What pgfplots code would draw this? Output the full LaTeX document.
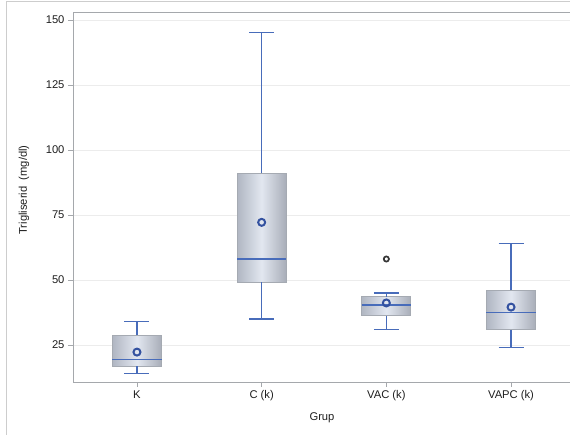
\documentclass[border=0pt]{standalone}
\usepackage{pgfplots}
\pgfplotsset{compat=1.18}
\usepackage{fontspec}
\setmainfont{Liberation Sans}
\definecolor{boxblue}{RGB}{72,108,186}
\definecolor{meanblue}{RGB}{52,82,160}
\definecolor{axgray}{RGB}{165,168,172}
\definecolor{gridgray}{RGB}{236,236,236}
\definecolor{boxedge}{RGB}{165,170,178}
\definecolor{shadeL}{RGB}{176,182,194}
\definecolor{shadeM}{RGB}{226,231,240}
\definecolor{shadeR}{RGB}{168,173,184}
\definecolor{txt}{RGB}{30,30,30}
\definecolor{outl}{RGB}{55,55,55}
\definecolor{frame}{RGB}{205,205,205}
\begin{document}
\begin{tikzpicture}
\useasboundingbox (-73pt,-53pt) rectangle (497pt,382pt);
\draw[frame, line width=0.8pt] (-67pt,-60pt) -- (-67pt,381pt) -- (510pt,381pt);
\begin{axis}[
  at={(0pt,0pt)}, anchor=south west,
  scale only axis, width=500pt, height=370pt,
  xmin=-0.513, xmax=3.497, ymin=10.8, ymax=153.1,
  xtick={0,1,2,3}, xticklabels={K, C (k), VAC (k), VAPC (k)},
  ytick={25,50,75,100,125,150},
  tick pos=left, tick align=outside, major tick length=5pt,
  tick style={axgray, line width=0.9pt},
  axis line style={axgray, line width=0.9pt},
  ymajorgrids, grid style={gridgray, line width=0.9pt},
  ticklabel style={font=\fontsize{11.2}{13}\selectfont, text=txt},
  /pgf/number format/assume math mode=true,
  xlabel={Grup}, ylabel={Trigliserid\ \ (mg/dl)},
  label style={font=\fontsize{11.2}{13}\selectfont, text=txt},
  xlabel style={at={(axis description cs:0.498,-0.097)}, anchor=center},
  ylabel style={at={(axis description cs:-0.098,0.519)}, anchor=center},
  boxstyle/.style={draw=boxedge, line width=1pt, left color=shadeL, right color=shadeR, middle color=shadeM},
  whisk/.style={draw=boxblue, line width=1.4pt, mark=none},
  med/.style={draw=boxblue, line width=1.6pt, mark=none},
]
% boxes (lower quartile to upper quartile)
\addplot[boxstyle] coordinates {(-0.1975,16.9) (0.1975,16.9) (0.1975,28.8) (-0.1975,28.8)} -- cycle;
\addplot[boxstyle] coordinates {(0.8025,49.2) (1.1975,49.2) (1.1975,91.0) (0.8025,91.0)} -- cycle;
\addplot[boxstyle] coordinates {(1.8025,36.3) (2.1975,36.3) (2.1975,43.5) (1.8025,43.5)} -- cycle;
\addplot[boxstyle] coordinates {(2.8025,30.8) (3.1975,30.8) (3.1975,46.0) (2.8025,46.0)} -- cycle;
% whiskers
\addplot[whisk] coordinates {(0,16.9) (0,14.1)};
\addplot[whisk] coordinates {(-0.1,14.1) (0.1,14.1)};
\addplot[whisk] coordinates {(0,28.8) (0,34.0)};
\addplot[whisk] coordinates {(-0.1,34.0) (0.1,34.0)};
\addplot[whisk] coordinates {(1,49.2) (1,35.0)};
\addplot[whisk] coordinates {(0.9,35.0) (1.1,35.0)};
\addplot[whisk] coordinates {(1,91.0) (1,145.1)};
\addplot[whisk] coordinates {(0.9,145.1) (1.1,145.1)};
\addplot[whisk] coordinates {(2,36.3) (2,31.0)};
\addplot[whisk] coordinates {(1.9,31.0) (2.1,31.0)};
\addplot[whisk] coordinates {(2,43.5) (2,45.0)};
\addplot[whisk] coordinates {(1.9,45.0) (2.1,45.0)};
\addplot[whisk] coordinates {(3,30.8) (3,24.1)};
\addplot[whisk] coordinates {(2.9,24.1) (3.1,24.1)};
\addplot[whisk] coordinates {(3,46.0) (3,64.1)};
\addplot[whisk] coordinates {(2.9,64.1) (3.1,64.1)};
% medians
\addplot[med] coordinates {(-0.1975,19.5) (0.1975,19.5)};
\addplot[med] coordinates {(0.8025,58.1) (1.1975,58.1)};
\addplot[med] coordinates {(1.8025,40.5) (2.1975,40.5)};
\addplot[med] coordinates {(2.8025,37.6) (3.1975,37.6)};
% means
\addplot[only marks, mark=o, mark size=3.5pt, mark options={draw=meanblue, line width=2pt, fill=none}]
  coordinates {(0,22.3) (1,72.2) (2,41.2) (3,39.6)};
% outlier
\addplot[only marks, mark=o, mark size=2.6pt, mark options={draw=outl, line width=1.7pt, fill=none}]
  coordinates {(2,58.1)};
\end{axis}
\end{tikzpicture}
\end{document}
